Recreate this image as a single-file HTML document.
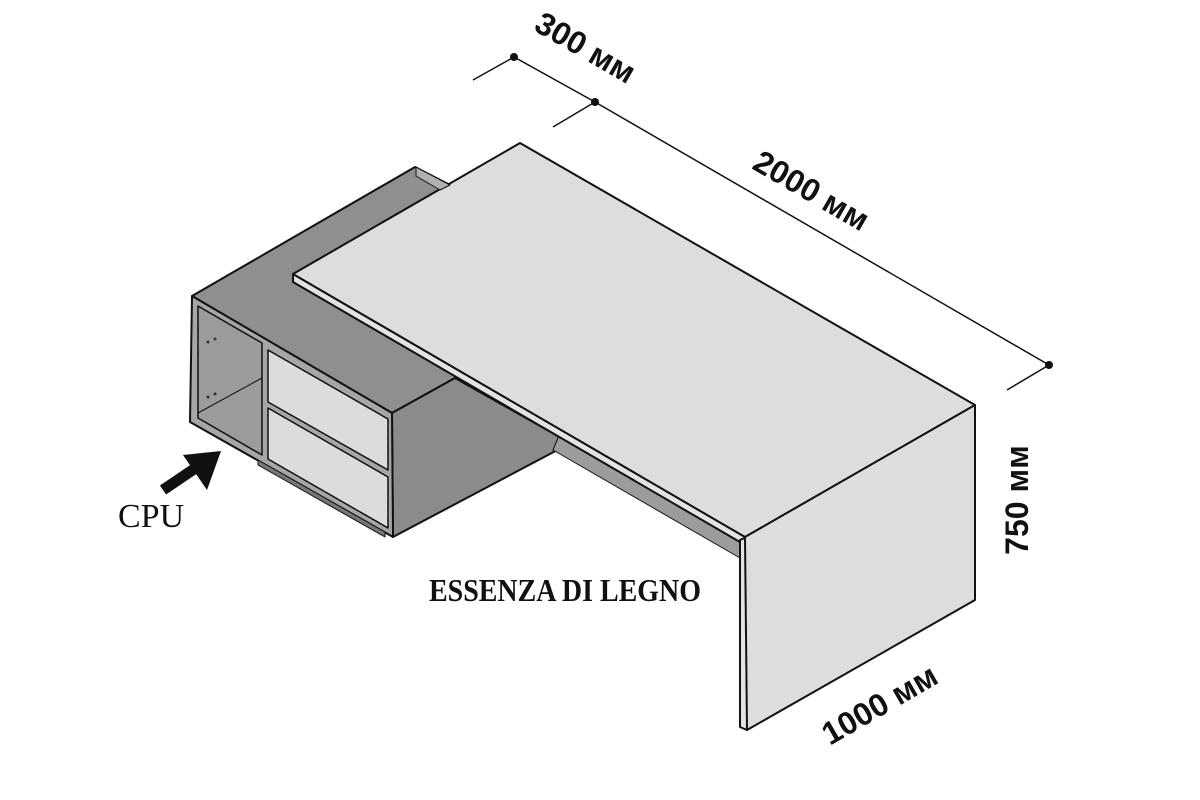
<!DOCTYPE html>
<html><head><meta charset="utf-8"><style>
html,body{margin:0;padding:0;background:#fff;}
svg{display:block;}
.d{font-family:"Liberation Sans",sans-serif;font-weight:bold;font-size:32px;fill:#111;}
.s{font-family:"Liberation Serif",serif;fill:#111;}
</style></head><body>
<svg width="1200" height="800" viewBox="0 0 1200 800" xmlns="http://www.w3.org/2000/svg">
<g stroke="#111" stroke-width="2" stroke-linejoin="round">
<polygon points="192,296 415,167 450,185 455,378 392,413" fill="#8e8f91"/>
<polygon points="392,413 455,378 565,440 565,446 393,537" fill="#8a8b8d"/>
<polygon points="192,296 392,413 393,537 190,422" fill="#a5a6a8"/>
<polygon points="198,306 262,343 262,455 198,418" fill="#9a9b9d" stroke-width="1.5"/>
<line x1="198" y1="413" x2="262" y2="378" stroke-width="1"/>
<polygon points="268,350 388,419 388,470 268,402" fill="#dcdcde" stroke-width="1.5"/>
<polygon points="268,408 388,477 388,528 268,459" fill="#dcdcde" stroke-width="1.5"/>
<polygon points="258,460 385,532 385,537 258,465" fill="#777" stroke-width="1"/>
<polygon points="560,433 740,540 740,558 553,450" fill="#9b9c9e" stroke-width="1"/>
<polygon points="293,274 745,537 745,545 293,282" fill="#e2e3e5"/>
<polygon points="740,540 747,537 747,730 740,727" fill="#e2e3e5"/>
<polygon points="293,274 520,143 975,405 745,537" fill="#dcdddf"/>
<polygon points="416,167 450,185 440,190 416,176" fill="#b0b1b3" stroke-width="1"/>
<polygon points="745,537 975,405 975,600 747,730" fill="#dcdddf"/>
</g>
<g fill="#333"><circle cx="208" cy="342" r="1.5"/><circle cx="215" cy="339" r="1.5"/><circle cx="208" cy="397" r="1.5"/><circle cx="215" cy="394" r="1.5"/></g>
<g stroke="#111" stroke-width="1.5" fill="none">
<polyline points="473,80 514,57 595,102 1049,365 1007,390"/>
<line x1="553" y1="127" x2="595" y2="102"/>
</g>
<g fill="#111"><circle cx="514" cy="57" r="4"/><circle cx="595" cy="102" r="4"/><circle cx="1049" cy="365" r="4"/></g>
<text class="d" transform="translate(580,57) rotate(30)" text-anchor="middle">300 мм</text>
<text class="d" transform="translate(806,200) rotate(30)" text-anchor="middle">2000 мм</text>
<text class="d" transform="translate(1028,500) rotate(-90)" text-anchor="middle">750 мм</text>
<text class="d" transform="translate(885,714) rotate(-30)" text-anchor="middle">1000 мм</text>
<line x1="163" y1="490" x2="200" y2="465" stroke="#111" stroke-width="11"/>
<polygon points="221,451 183,455 207,490" fill="#111"/>
<text class="s" x="118" y="527" font-size="34">CPU</text>
<text class="s" x="429" y="601" font-size="32" font-weight="bold" textLength="272" lengthAdjust="spacingAndGlyphs">ESSENZA DI LEGNO</text>
</svg>
</body></html>
